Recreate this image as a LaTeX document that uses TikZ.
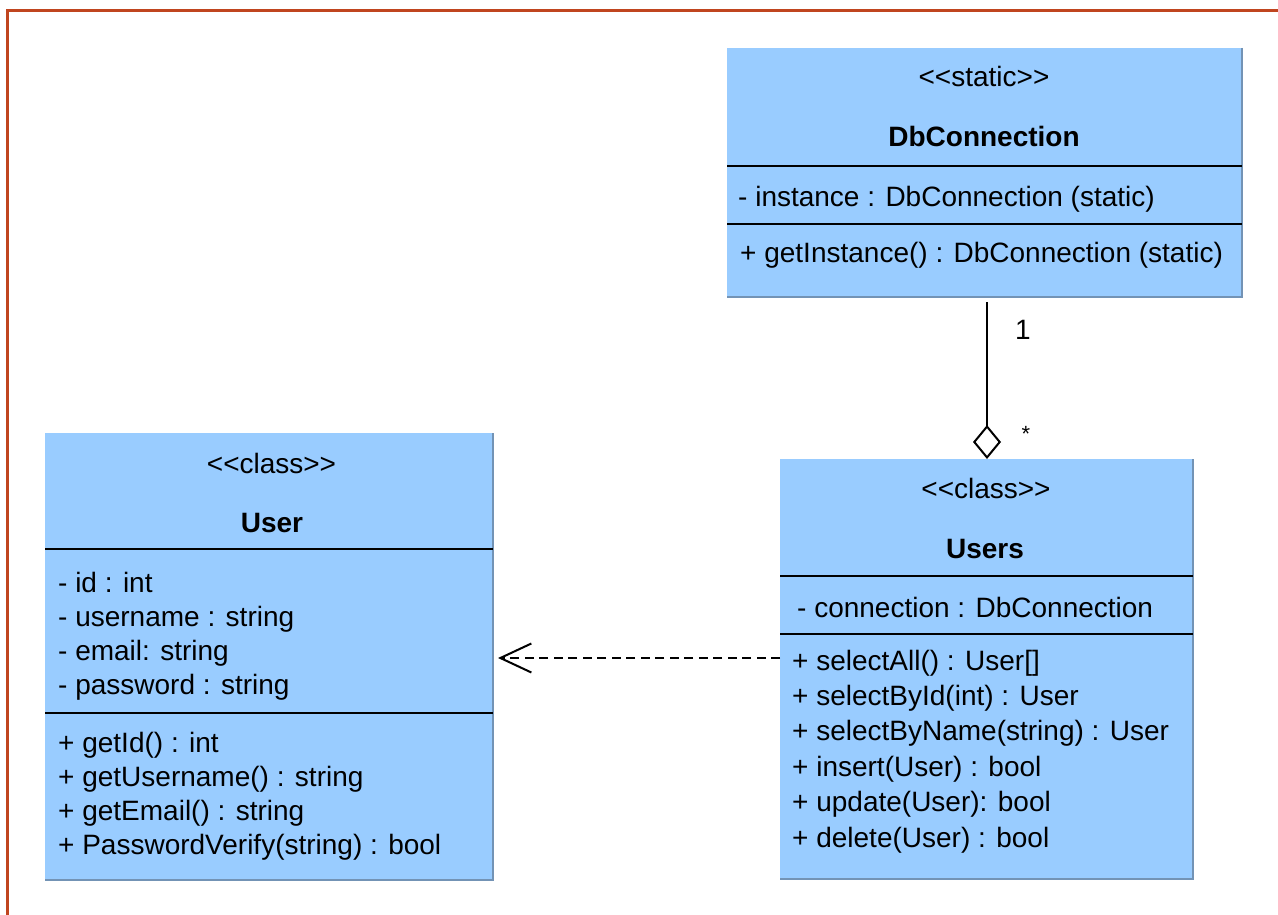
\documentclass[tikz,border=0pt]{standalone}
\usepackage{fontspec}
\setmainfont{Liberation Sans}
\usetikzlibrary{arrows.meta}
\definecolor{boxfill}{HTML}{99CCFF}
\definecolor{boxedge}{HTML}{7393B5}
\definecolor{framecol}{HTML}{C0451F}
\newcommand{\stereo}[1]{<\kern0pt<#1>\kern0pt>}
\begin{document}
\begin{tikzpicture}[x=1pt,y=-1pt,
  umlbox/.style={fill=boxfill, draw=none, inner sep=0pt, outer sep=0pt},
  shade edge/.style={draw=boxedge, line width=2pt},
  sepline/.style={draw=black, line width=2pt},
  txt/.style={inner sep=0pt, anchor=base west, font=\fontsize{28}{34}\selectfont},
  ctr/.style={inner sep=0pt, anchor=base, font=\fontsize{28}{34}\selectfont},
  title/.style={ctr, font=\fontsize{28}{34}\selectfont\bfseries},
  conn/.style={draw=black, line width=2pt},
]
\useasboundingbox (0,0) rectangle (1278,915);
\fill[white] (0,0) rectangle (1278,915);
\draw[framecol, line width=3pt] (7.5,915) -- (7.5,10.5) -- (1278,10.5);

% ---- DbConnection
\node[umlbox, minimum width=515pt, minimum height=249pt] (dbc) at (984.5,172.5) {};
\draw[shade edge] (dbc.north east) -- (dbc.south east) -- (dbc.south west);
\draw[sepline] (727,166) -- (1242,166);
\draw[sepline] (727,224) -- (1242,224);
\node[ctr] (dbcst) at (984,87) {\stereo{static}};
\node[title] (dbcname) at (984,147) {DbConnection};
\node[txt] (dbca1) at (738,207) {- instance : DbConnection (static)};
\node[txt] (dbcm1) at (740,262) {+ getInstance() : DbConnection (static)};

% ---- Users
\node[umlbox, minimum width=413pt, minimum height=420pt] (users) at (986.5,669) {};
\draw[shade edge] (users.north east) -- (users.south east) -- (users.south west);
\draw[sepline] (780,576) -- (1193,576);
\draw[sepline] (780,634) -- (1193,634);
\node[ctr] (usersst) at (986,498) {\stereo{class}};
\node[title] (usersname) at (985,558) {Users};
\node[txt] (usersa1) at (797,617) {- connection : DbConnection};
\node[txt] (usersm1) at (792,670) {+ selectAll() : User[]};
\node[txt] (usersm2) at (792,705.4) {+ selectById(int) : User};
\node[txt] (usersm3) at (792,740.8) {+ selectByName(string) : User};
\node[txt] (usersm4) at (792,776.2) {+ insert(User) : bool};
\node[txt] (usersm5) at (792,811.6) {+ update(User): bool};
\node[txt] (usersm6) at (792,847) {+ delete(User) : bool};

% ---- User
\node[umlbox, minimum width=448pt, minimum height=447pt] (user) at (269,656.5) {};
\draw[shade edge] (user.north east) -- (user.south east) -- (user.south west);
\draw[sepline] (45,549) -- (493,549);
\draw[sepline] (45,713) -- (493,713);
\node[ctr] (userst) at (271.5,473) {\stereo{class}};
\node[title] (username) at (272,532) {User};
\node[txt] (usera1) at (58,592) {- id : int};
\node[txt] (usera2) at (58,626.3) {- username : string};
\node[txt] (usera3) at (58,660.6) {- email: string};
\node[txt] (usera4) at (58,694.9) {- password : string};
\node[txt] (userm1) at (58,752) {+ getId() : int};
\node[txt] (userm2) at (58,786.3) {+ getUsername() : string};
\node[txt] (userm3) at (58,820.6) {+ getEmail() : string};
\node[txt] (userm4) at (58,854.9) {+ PasswordVerify(string) : bool};

% ---- aggregation
\coordinate (aggtop) at (987,302);
\draw[conn, -{Diamond[open, length=34pt, width=28pt, line width=2pt]}] (aggtop) -- (users.north -| aggtop);
\node[ctr] (mult1) at (1023,339) {1};
\node[ctr, font=\fontsize{22}{26}\selectfont] (mult2) at (1026,441) {*};

% ---- dependency
\draw[conn, dash pattern=on 9pt off 5.5pt, shorten >=5pt,
  -{Straight Barb[length=31pt, width=29pt, line width=2pt]}]
  ([yshift=11pt]users.west) -- ([yshift=-1.5pt]user.east);
\end{tikzpicture}
\end{document}
